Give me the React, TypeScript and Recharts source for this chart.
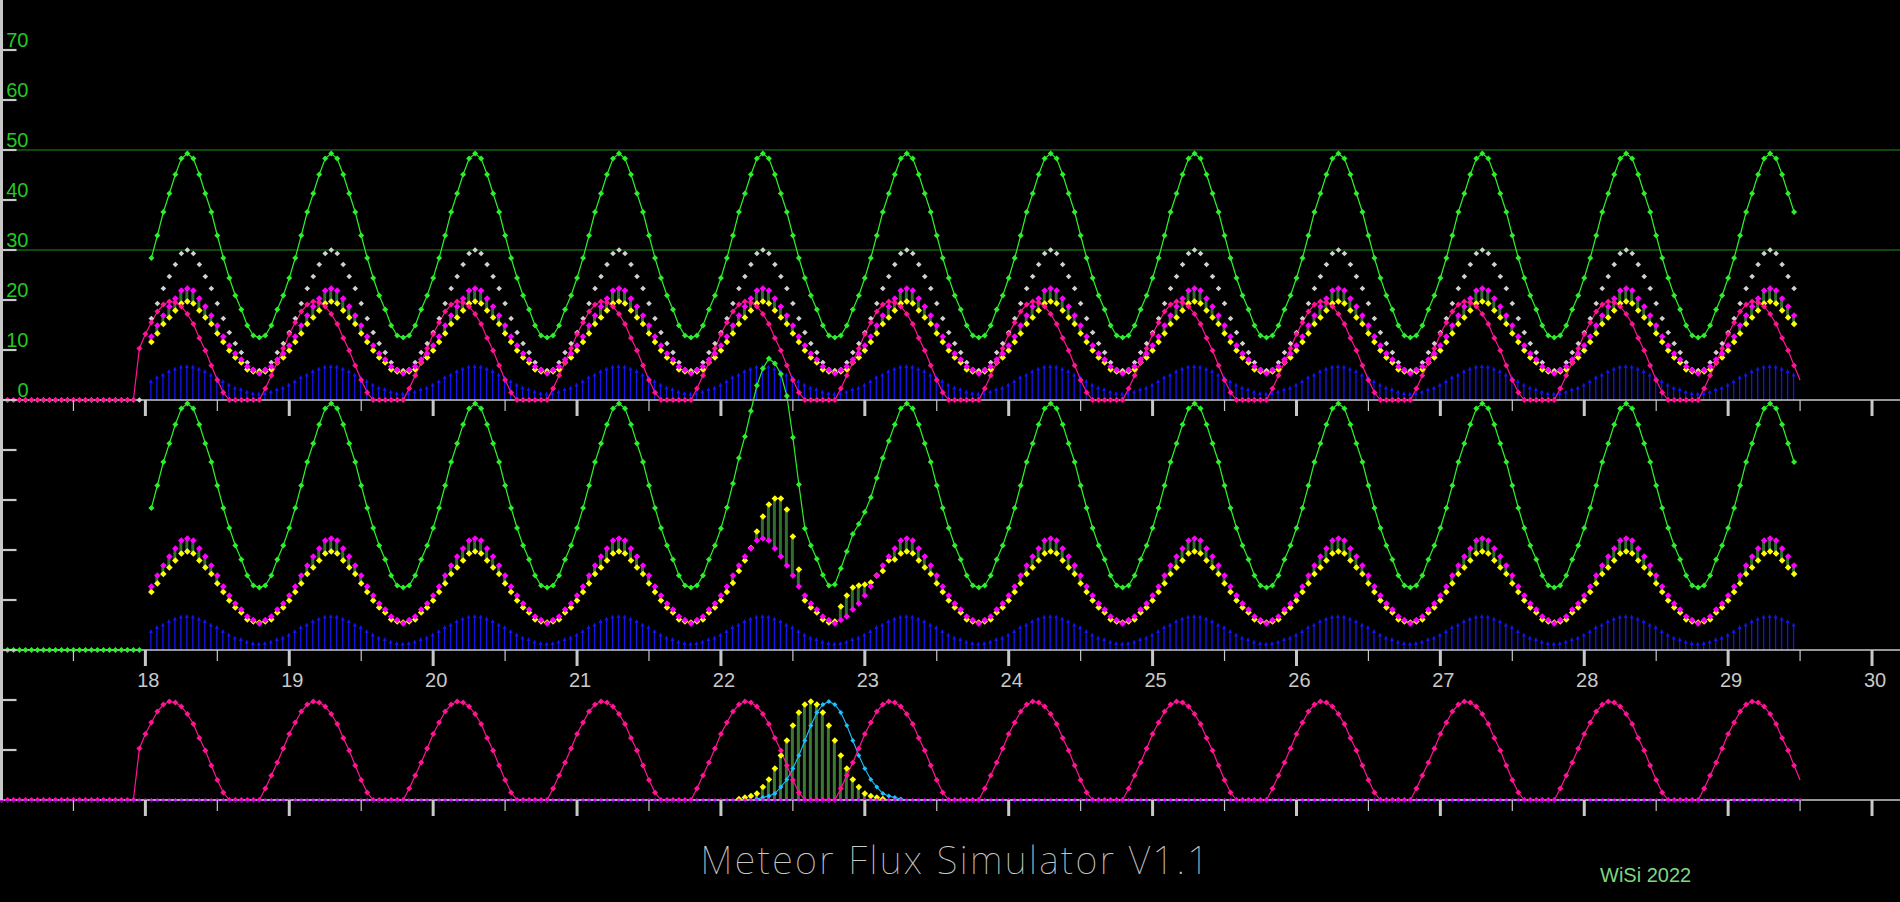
import React from 'react';
import { Bar, ComposedChart, Line, ReferenceLine, XAxis, YAxis } from 'recharts';

// one simulated day, hour 0..23
const greenDay = [24.4, 28.4, 32.9, 37.6, 41.3, 45.1, 48.3, 49.3, 48.3, 45.1, 41.3, 37.6, 32.9, 28.4, 24.4, 20.9, 18.1, 14.9, 12.9, 12.5, 12.9, 14.9, 18.1, 20.9];
const grayDay = [13.5, 16.3, 19.3, 22.3, 24.7, 27.1, 29.3, 30.0, 29.3, 27.1, 24.7, 22.3, 19.3, 16.3, 13.5, 11.3, 9.5, 7.5, 6.1, 5.9, 6.1, 7.5, 9.5, 11.3];
const magentaDay = [10.9, 12.7, 14.9, 16.9, 18.7, 20.3, 21.9, 22.3, 21.9, 20.3, 18.7, 16.9, 14.9, 12.7, 10.9, 9.3, 8.1, 6.7, 6.0, 5.3, 6.0, 6.7, 8.1, 9.3];
const yellowDay = [9.9, 11.6, 13.3, 15.2, 16.5, 17.9, 19.3, 19.7, 19.3, 17.9, 16.5, 15.2, 13.3, 11.6, 9.9, 8.5, 7.5, 6.1, 5.7, 5.5, 5.7, 6.1, 7.5, 8.5];
const pinkDay = [13.2, 15.5, 17.7, 19.1, 19.7, 19.5, 18.7, 17.2, 15.2, 12.4, 9.9, 6.9, 4.0, 1.5, 0, 0, 0, 0, 0, 0, 2.3, 4.9, 7.5, 10.3];
const blueDay = [3.3, 4.0, 4.8, 5.3, 6.0, 6.5, 6.9, 7.0, 6.9, 6.5, 6.0, 5.3, 4.8, 4.0, 3.3, 2.7, 2.4, 1.9, 1.6, 1.5, 1.6, 1.9, 2.4, 2.7];
const pinkLeadIn = [0, 0, 0, 0, 0, 0, 0, 0, 0, 0, 0, 0, 0, 0, 0, 0, 0, 0, 0, 0, 0, 0, 0, 10.3];

// shower, middle panel: hourly from day 22 h0
const green2Shower = [24.3, 28.5, 33.3, 38.4, 42.7, 47.8, 52.9, 56.3, 58.3, 57.3, 55.2, 50.8, 42.5, 33.1, 24.3, 20.9, 18.2, 15.0, 12.9, 13.1, 16.3, 19.7, 23.2, 25.2, 27.6, 30.5, 34.4, 38.4, 41.8, 45.1];
const yellow2Shower = [9.9, 11.6, 13.4, 15.8, 17.9, 20.4, 23.7, 26.7, 29.1, 30.3, 30.3, 28.1, 22.7, 16.1, 9.9, 8.5, 7.5, 6.1, 5.5, 5.7, 8.7, 10.9, 12.5, 12.9, 13.1, 13.5, 14.9, 15.8, 17.9, 18.1];
// shower, bottom panel: yellow from day 22 h3, cyan from day 22 h6
const yellow3Shower = [0.2, 0.5, 0.8, 1.3, 2.6, 4.1, 6.3, 8.9, 11.9, 14.9, 17.5, 19.1, 19.7, 19.1, 17.5, 14.9, 11.9, 8.9, 6.3, 4.1, 2.6, 1.3, 0.8, 0.5, 0.2];
const cyan3Shower = [0.2, 0.5, 0.8, 1.3, 2.6, 4.1, 6.3, 8.9, 11.9, 14.9, 17.5, 19.1, 19.7, 19.1, 17.5, 14.9, 11.9, 8.9, 6.3, 4.1, 2.6, 1.3, 0.8, 0.5, 0.2];

const leadInDay = 17;
const profileDays = [18, 19, 20, 21, 22, 23, 24, 25, 26, 27, 28, 29];
const firstHour = 1;
const lastHour = 11;
const pinkLastHour = 12;
const showerDay = 22;
const yellow3FromHour = 3;
const cyan3FromHour = 6;

const xTicks = [17.5, 18, 18.5, 19, 19.5, 20, 20.5, 21, 21.5, 22, 22.5, 23, 23.5, 24, 24.5, 25, 25.5, 26, 26.5, 27, 27.5, 28, 28.5, 29, 29.5, 30];
const topTicks = [0, 10, 20, 30, 40, 50, 60, 70];
const midTicks = [0, 10, 20, 30, 40];
const lowTicks = [10, 20];
const gridValues = [30, 50];

const W = 1900;
const PX_PER_DAY = 144;
const LEFT = 1.5;
const X_DOMAIN: [number, number] = [leadInDay + LEFT / PX_PER_DAY, leadInDay + W / PX_PER_DAY];

const AXIS = '#c8c8c8';
const LABEL = '#22c922';
const GREEN = '#2cf02c';
const GRAY = '#d0d0d0';
const MAGENTA = '#ff00ff';
const YELLOW = '#ffff00';
const PINK = '#ff1493';
const BLUE = '#1414ee';
const CYAN = '#1ec0ff';
const BAND = '#2e6e2e';
const GRID = '#1f8f1f';

const pick = (arr: number[], i: number) => (i >= 0 && i < arr.length ? arr[i] : undefined);

const lastDay = profileDays[profileDays.length - 1];
const rows: any[] = [];
[leadInDay, ...profileDays].forEach((d) => {
  for (let h = 0; h < 24; h++) {
    if (d === lastDay && h > pinkLastHour) break;
    const lead = d === leadInDay;
    const live = !lead && !(d === profileDays[0] && h < firstHour) && !(d === lastDay && h > lastHour);
    const si = (d - showerDay) * 24 + h;
    const yel = live ? yellowDay[h] : null;
    const mag = live ? magentaDay[h] : null;
    const yel2 = live ? pick(yellow2Shower, si) ?? yellowDay[h] : null;
    const y3 = pick(yellow3Shower, si - yellow3FromHour);
    const c3 = pick(cyan3Shower, si - cyan3FromHour);
    rows.push({
      t: d + h / 24,
      green: live ? greenDay[h] : null,
      gray: lead ? 0 : live ? grayDay[h] : null,
      yel,
      mag,
      band: live ? [Math.min(yel!, mag!), Math.max(yel!, mag!)] : null,
      blue: live ? blueDay[h] : null,
      pink: lead ? pinkLeadIn[h] : pinkDay[h],
      green2: lead ? 0 : live ? pick(green2Shower, si) ?? greenDay[h] : null,
      yel2,
      band2: live ? [Math.min(yel2!, mag!), Math.max(yel2!, mag!)] : null,
      yel3: y3 ?? null,
      cyan3: c3 ?? null,
      base: 0,
    });
  }
});

const diamond = (color: string, r: number, skipLast = false) => (p: any) => {
  const { cx, cy, index, value } = p;
  if (cx == null || cy == null || value == null || (skipLast && index === rows.length - 1)) {
    return <g key={`n${index}`} />;
  }
  return <path key={`d${index}`} d={`M${cx},${cy - r}L${cx + r},${cy}L${cx},${cy + r}L${cx - r},${cy}Z`} fill={color} />;
};

const baseDot = (p: any) => {
  const { cx, cy, index } = p;
  if (cx == null || cy == null) return <g key={`n${index}`} />;
  return (
    <g key={`b${index}`}>
      <path d={`M${cx - 2},${cy + 0.5}L${cx + 2},${cy + 0.5}L${cx},${cy + 3}Z`} fill={BLUE} />
      <path d={`M${cx},${cy - 2}L${cx + 2},${cy}L${cx},${cy + 1}L${cx - 2},${cy}Z`} fill={MAGENTA} />
    </g>
  );
};

const BlueStem = (p: any) => {
  const { x, y, width, height } = p;
  if (x == null || y == null || !(height > 0)) return <g />;
  const cx = x + width / 2;
  return (
    <g>
      <line x1={cx} x2={cx} y1={y + 2} y2={y + height} stroke={BLUE} strokeWidth={1.3} />
      <path d={`M${cx},${y - 1}L${cx + 2},${y + 3}L${cx - 2},${y + 3}Z`} fill={BLUE} />
    </g>
  );
};

const XTick = (p: any) => {
  const { x, y, payload, showLabel } = p;
  const v = payload.value;
  const major = Number.isInteger(v);
  return (
    <g>
      <line x1={x} x2={x} y1={y} y2={y + (major ? 16 : 11)} stroke={AXIS} strokeWidth={major ? 3 : 1.2} />
      {showLabel && major && v >= profileDays[0] && (
        <text x={x + 3} y={y + 37} textAnchor="middle" fill={AXIS} fontSize={20} fontFamily="'Liberation Sans', Arial, sans-serif">
          {v}
        </text>
      )}
    </g>
  );
};

const YTick = (p: any) => {
  const { x, y, payload, showLabel } = p;
  return (
    <g>
      <line x1={x} x2={x + 15} y1={y} y2={y} stroke={AXIS} strokeWidth={2.2} />
      {showLabel && (
        <text x={x + 27} y={y - 3} textAnchor="end" fill={LABEL} fontSize={20} fontFamily="'Liberation Sans', Arial, sans-serif">
          {payload.value}
        </text>
      )}
    </g>
  );
};

const margin = { top: 0, right: 0, bottom: 0, left: LEFT };
const xAxisProps = {
  dataKey: 't',
  type: 'number' as const,
  domain: X_DOMAIN,
  ticks: xTicks,
  interval: 0 as const,
  tickSize: 0,
  tickMargin: 0,
  tickLine: false,
  axisLine: { stroke: AXIS, strokeWidth: 1.5 },
};
const yAxisProps = {
  type: 'number' as const,
  mirror: true,
  width: 30,
  interval: 0 as const,
  tickSize: 0,
  tickMargin: 0,
  tickLine: false,
  axisLine: { stroke: AXIS, strokeWidth: 3 },
};

function TopPanel() {
  return (
    <ComposedChart width={W} height={420} data={rows} margin={margin} barGap={-3}>
      <XAxis {...xAxisProps} height={20} tick={<XTick />} />
      <YAxis {...yAxisProps} domain={[0, 80]} ticks={topTicks} tick={<YTick showLabel />} />
      {gridValues.map((g) => (
        <ReferenceLine key={g} y={g} stroke={GRID} strokeWidth={1.2} />
      ))}
      <Bar dataKey="blue" barSize={3} shape={BlueStem} isAnimationActive={false} />
      <Bar dataKey="band" barSize={3} fill={BAND} isAnimationActive={false} />
      <Line dataKey="gray" stroke="none" dot={diamond(GRAY, 2.8)} activeDot={false} isAnimationActive={false} />
      <Line dataKey="yel" stroke="none" dot={diamond(YELLOW, 3.3)} activeDot={false} isAnimationActive={false} />
      <Line dataKey="mag" stroke="none" dot={diamond(MAGENTA, 3.3)} activeDot={false} isAnimationActive={false} />
      <Line dataKey="pink" stroke={PINK} strokeWidth={1.2} dot={diamond(PINK, 3, true)} activeDot={false} isAnimationActive={false} />
      <Line dataKey="green" stroke={GREEN} strokeWidth={1.2} dot={diamond(GREEN, 3)} activeDot={false} isAnimationActive={false} />
    </ComposedChart>
  );
}

function MiddlePanel() {
  return (
    <ComposedChart width={W} height={350} data={rows} margin={margin} barGap={-3}>
      <XAxis {...xAxisProps} height={50} tick={<XTick showLabel />} />
      <YAxis {...yAxisProps} domain={[0, 60]} ticks={midTicks} tick={<YTick />} />
      <Bar dataKey="blue" barSize={3} shape={BlueStem} isAnimationActive={false} />
      <Bar dataKey="band2" barSize={3} fill={BAND} isAnimationActive={false} />
      <Line dataKey="yel2" stroke="none" dot={diamond(YELLOW, 3.3)} activeDot={false} isAnimationActive={false} />
      <Line dataKey="mag" stroke="none" dot={diamond(MAGENTA, 3.3)} activeDot={false} isAnimationActive={false} />
      <Line dataKey="green2" stroke={GREEN} strokeWidth={1.2} dot={diamond(GREEN, 3)} activeDot={false} isAnimationActive={false} />
    </ComposedChart>
  );
}

function BottomPanel() {
  return (
    <ComposedChart width={W} height={170} data={rows} margin={margin}>
      <XAxis {...xAxisProps} height={20} tick={<XTick />} />
      <YAxis {...yAxisProps} domain={[0, 30]} ticks={lowTicks} tick={<YTick />} />
      <Line dataKey="cyan3" stroke={CYAN} strokeWidth={1.1} dot={diamond(CYAN, 2.5)} activeDot={false} isAnimationActive={false} />
      <Bar dataKey="yel3" barSize={3} fill="#3a7a30" isAnimationActive={false} />
      <Line dataKey="yel3" stroke="none" dot={diamond(YELLOW, 3.3)} activeDot={false} isAnimationActive={false} />
      <Line dataKey="pink" stroke={PINK} strokeWidth={1.2} dot={diamond(PINK, 3, true)} activeDot={false} isAnimationActive={false} />
      <Line dataKey="base" stroke={MAGENTA} strokeWidth={1.5} dot={baseDot} activeDot={false} isAnimationActive={false} />
    </ComposedChart>
  );
}

export default function App() {
  return (
    <div style={{ position: 'relative', width: W, height: 902, background: '#000', overflow: 'hidden' }}>
      <style>{`html,body{margin:0;padding:0;background:#000;}`}</style>
      <div style={{ position: 'absolute', left: 0, top: 0 }}>
        <TopPanel />
      </div>
      <div style={{ position: 'absolute', left: 0, top: 350 }}>
        <MiddlePanel />
      </div>
      <div style={{ position: 'absolute', left: 0, top: 650 }}>
        <BottomPanel />
      </div>
      {/* left frame edge shared by the three panels */}
      <div style={{ position: 'absolute', left: 0, top: 0, width: 3, height: 800, background: AXIS }} />
      <svg width={W} height={902} style={{ position: 'absolute', left: 0, top: 0, pointerEvents: 'none' }}>
        <text x={956} y={874} textAnchor="middle" fill={AXIS} fontSize={38} fontWeight={100} letterSpacing={2.4} fontFamily="'Noto Sans', sans-serif">
          Meteor Flux Simulator V1.1
        </text>
        <text x={1600} y={882} fill="#7fd67f" fontSize={20} fontFamily="'Liberation Sans', Arial, sans-serif">
          WiSi 2022
        </text>
      </svg>
    </div>
  );
}
